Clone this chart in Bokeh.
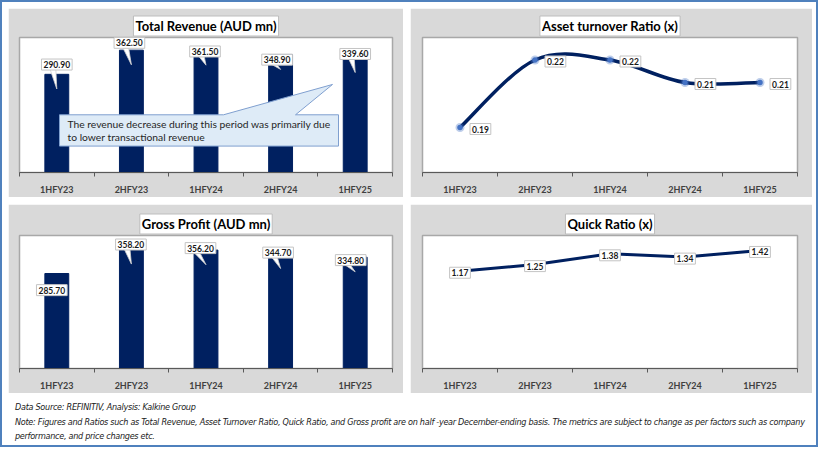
from bokeh.plotting import figure
from bokeh.models import Range1d, FixedTicker, Div
from bokeh.layouts import row, column
from bokeh.embed import file_html
from bokeh.resources import INLINE
from bokeh.core.properties import value

# ---------------- data ----------------
categories = ["1HFY23", "2HFY23", "1HFY24", "2HFY24", "1HFY25"]
total_revenue = [290.90, 362.50, 361.50, 348.90, 339.60]
gross_profit = [285.70, 358.20, 356.20, 344.70, 334.80]
asset_turnover = [0.19, 0.22, 0.22, 0.21, 0.21]
quick_ratio = [1.17, 1.25, 1.38, 1.34, 1.42]

revenue_note = "The revenue decrease during this period was primarily due\nto lower transactional revenue"
source_text = "Data Source: REFINITIV, Analysis: Kalkine Group"
note_line1 = ("Note: Figures and Ratios such as Total Revenue, Asset Turnover Ratio, Quick Ratio, and Gross profit "
              "are on half -year December-ending basis. The metrics are subject to change as per factors such as company")
note_line2 = "performance, and price changes etc."

# ---------------- style ----------------
NAVY = "#002060"
PANEL = "#D9D9D9"
MARKER = "#4472C4"
FONT = "Lato"
LABEL_SIZE = "8.5px"

idx = list(range(len(categories)))


def base_fig(width, height, title, y0, y1, left, right, top, bottom):
    p = figure(width=width, height=height,
               x_range=Range1d(-0.5, len(categories) - 0.5), y_range=Range1d(y0, y1),
               output_backend="svg", toolbar_location=None,
               min_border_left=left, min_border_right=right,
               min_border_top=top, min_border_bottom=bottom,
               background_fill_color="white", border_fill_color=PANEL,
               title=title)
    t = p.title
    t.align = "center"
    t.text_font = FONT
    t.text_font_size = "13px"
    t.text_font_style = "bold"
    t.text_color = "black"
    t.background_fill_color = "white"
    t.border_line_color = "#BDBDBD"
    t.padding = 2
    t.standoff = 3
    p.yaxis.visible = False
    p.grid.visible = False
    p.outline_line_color = "#A8A8A8"
    p.outline_line_width = 1.5
    ax = p.xaxis[0]
    ax.ticker = FixedTicker(ticks=idx, minor_ticks=[i - 0.5 for i in range(len(categories) + 1)])
    ax.major_label_overrides = {i: c for i, c in enumerate(categories)}
    ax.major_tick_line_color = None
    ax.major_tick_in = 0
    ax.major_tick_out = 0
    ax.minor_tick_in = 0
    ax.minor_tick_out = 4
    ax.minor_tick_line_color = "#595959"
    ax.axis_line_color = "#595959"
    ax.major_label_standoff = 7
    ax.major_label_text_font = FONT
    ax.major_label_text_font_size = "9px"
    ax.major_label_text_font_style = "bold"
    ax.major_label_text_color = "#404040"
    return p


def bar_chart(p, vals, frame_w, frame_h, y1, dx_px, dy_px, show_ptr):
    px_x = (len(categories)) / frame_w
    px_y = y1 / frame_h
    p.vbar(x=idx, top=vals, width=0.32, fill_color=NAVY, line_color=NAVY)
    lx = [i + dx * px_x for i, dx in zip(idx, dx_px)]
    ly = [v + dy * px_y for v, dy in zip(vals, dy_px)]
    pxs, pys = [], []
    for i, v, x, y, s in zip(idx, vals, lx, ly, show_ptr):
        if not s:
            continue
        pxs.append([x - 7 * px_x, x - 1 * px_x, i])
        pys.append([y - 4 * px_y, y - 4 * px_y, v - 15 * px_y])
    p.patches(pxs, pys, fill_color="white", line_color="#D0D0D0", line_width=0.8)
    p.text(x=lx, y=ly, text=[f"{v:.2f}" for v in vals],
           text_align="center", text_baseline="middle",
           text_font=value(FONT), text_font_size=LABEL_SIZE, text_font_style="bold",
           text_color="#1a1a1a",
           background_fill_color="white", border_line_color="#C4C4C4", padding=2)


# ---------- Total Revenue ----------
p1 = base_fig(395, 189, "Total Revenue (AUD mn)", 0, 400, 11, 11, 29, 22)
bar_chart(p1, total_revenue, 373, 138, 400,
          [0, -2, -1, -3.5, 0], [10, 7.5, -1, -5, 4], [True] * 5)

# callout annotation (layout in pixels of the frame, converted to data units)
fx, fy = 5 / 373, 400 / 138
def cx(px):
    return -0.5 + px * fx
def cy(py):
    return (138 - py) * fy
call_x = [cx(40), cx(204), cx(313), cx(276), cx(319), cx(319), cx(40)]
call_y = [cy(79), cy(79), cy(48), cy(79), cy(79), cy(111), cy(111)]
p1.patch(call_x, call_y, fill_color="#DEEBF7", line_color="#7F9FCF", line_width=1)
p1.text(x=[cx(48)], y=[cy(95)], text=[revenue_note], text_align="left", text_baseline="middle",
        text_font=value(FONT), text_font_size="10.3px", text_color="#262626", text_line_height=1.1)

# ---------- Asset turnover ----------
p2 = base_fig(402, 189, "Asset turnover Ratio (x)", 0.17, 0.23, 12, 15, 29, 22)
n = len(asset_turnover)
x0s, y0s, x1s, y1s, c0x, c0y, c1x, c1y = [], [], [], [], [], [], [], []
for i in range(n - 1):
    pm = max(i - 1, 0)
    pp = min(i + 2, n - 1)
    x0s.append(idx[i]); y0s.append(asset_turnover[i])
    x1s.append(idx[i + 1]); y1s.append(asset_turnover[i + 1])
    c0x.append(idx[i] + (idx[i + 1] - idx[pm]) / 6)
    c0y.append(asset_turnover[i] + (asset_turnover[i + 1] - asset_turnover[pm]) / 6)
    c1x.append(idx[i + 1] - (idx[pp] - idx[i]) / 6)
    c1y.append(asset_turnover[i + 1] - (asset_turnover[pp] - asset_turnover[i]) / 6)
p2.bezier(x0=x0s, y0=y0s, x1=x1s, y1=y1s, cx0=c0x, cy0=c0y, cx1=c1x, cy1=c1y,
          line_color=NAVY, line_width=3.5)
p2.scatter(idx, asset_turnover, size=9, fill_color=MARKER, line_color=None, fill_alpha=0.35)
p2.scatter(idx, asset_turnover, size=5.5, fill_color=MARKER, line_color=None)
p2.text(x=idx, y=asset_turnover, text=[f"{v:.2f}" for v in asset_turnover],
        x_offset=10, y_offset=1.5, text_align="left", text_baseline="middle",
        text_font=value(FONT), text_font_size=LABEL_SIZE, text_font_style="bold", text_color="#1a1a1a",
        background_fill_color="white", border_line_color="#C4C4C4", padding=2)

# ---------- Gross Profit ----------
p3 = base_fig(395, 189, "Gross Profit (AUD mn)", 0, 400, 11, 11, 31, 22)
bar_chart(p3, gross_profit, 373, 136, 400,
          [-5, -0.5, -5.5, -2.5, -4.5], [-17, 5, 2, 1.3, -3], [False, True, True, True, True])

# ---------- Quick Ratio ----------
p4 = base_fig(402, 189, "Quick Ratio (x)", 0, 1.6, 12, 15, 31, 22)
p4.line(idx, quick_ratio, line_color=NAVY, line_width=3)
p4.text(x=idx, y=quick_ratio, text=[f"{v:.2f}" for v in quick_ratio],
        y_offset=1.5, text_align="center", text_baseline="middle",
        text_font=value(FONT), text_font_size=LABEL_SIZE, text_font_style="bold", text_color="#1a1a1a",
        background_fill_color="white", border_line_color="#C4C4C4", padding=2)

# ---------- footnote ----------
foot = Div(width=802, height=46, text=(
    '<div style="position:fixed;left:0;top:0;width:818px;height:447px;border:2px solid #4F81BD;'
    'box-sizing:border-box;pointer-events:none;"></div>'
    '<div style="font-family:\'Liberation Sans Narrow\',\'DejaVu Sans Condensed\',sans-serif;'
    'font-stretch:condensed;font-style:italic;font-size:9px;letter-spacing:-0.28px;line-height:14.5px;'
    'color:#1a1a1a;white-space:nowrap;padding:2px 0 0 2px;">'
    f'{source_text}<br>{note_line1}<br>{note_line2}</div>'))

charts = column(row(p1, p2, spacing=7), row(p3, p4, spacing=7), spacing=7)
layout = column(charts, foot, spacing=0, margin=(8, 0, 0, 8))

open("out.html", "w").write(file_html(layout, INLINE))
